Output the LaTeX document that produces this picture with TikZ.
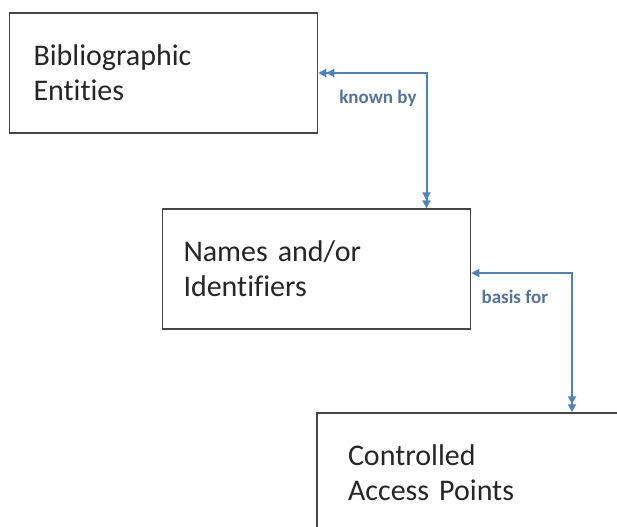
\documentclass[tikz,border=0pt]{standalone}
\usepackage{fontspec}
\setmainfont{Carlito}[Ligatures=NoCommon]
\usetikzlibrary{arrows.meta,positioning}

\definecolor{linkblue}{RGB}{79,129,189}
\definecolor{labelblue}{RGB}{84,116,158}
\definecolor{boxgray}{RGB}{70,70,70}

\begin{document}
\begin{tikzpicture}[
    x=0.5pt, y=-0.5pt,
    every node/.style={font=\fontsize{15}{17.5}\selectfont},
    entity/.style={rectangle, draw=boxgray, line width=0.75pt, minimum width=154pt, minimum height=60pt, text width=130pt, inner xsep=12pt, align=left, text=black!85},
    link/.style={draw=linkblue, line width=1pt},
    linklabel/.style={font=\fontsize{9.5}{11}\selectfont\bfseries, text=labelblue, inner sep=0pt}
]
\useasboundingbox (0,0) rectangle (617,526);
\clip (0,0) rectangle (617,526);

% The three boxes
\node[entity] (bib) at (163.5,73) {Bibliographic\\Entities};
\node[entity, inner xsep=10.5pt, text width=133pt] (names) at (316.5,269) {Names and/or\\Identifiers};
\node[entity, minimum width=170pt, inner xsep=15.5pt, text width=139pt] (cap) at (487,473) {Controlled\\Access Points};

% Connectors with labels
\draw[link, {Triangle[length=4pt,width=4pt]Triangle[length=4pt,width=4pt]}-{Triangle[length=4pt,width=4pt]Triangle[length=4pt,width=4pt]}]
    (bib.east) -| ([xshift=55pt]names.north)
    node[linklabel, pos=0.5, anchor=north east, xshift=-4.5pt, yshift=-8pt] {known by};
\draw[link, {Triangle[length=4pt,width=4pt]}-{Triangle[length=4pt,width=4pt]Triangle[length=4pt,width=4pt]}]
    ([yshift=-2pt]names.east) -| ([xshift=42.5pt]cap.north)
    node[linklabel, pos=0.5, anchor=north east, xshift=-11.5pt, yshift=-8pt] {basis for};

\end{tikzpicture}
\end{document}
